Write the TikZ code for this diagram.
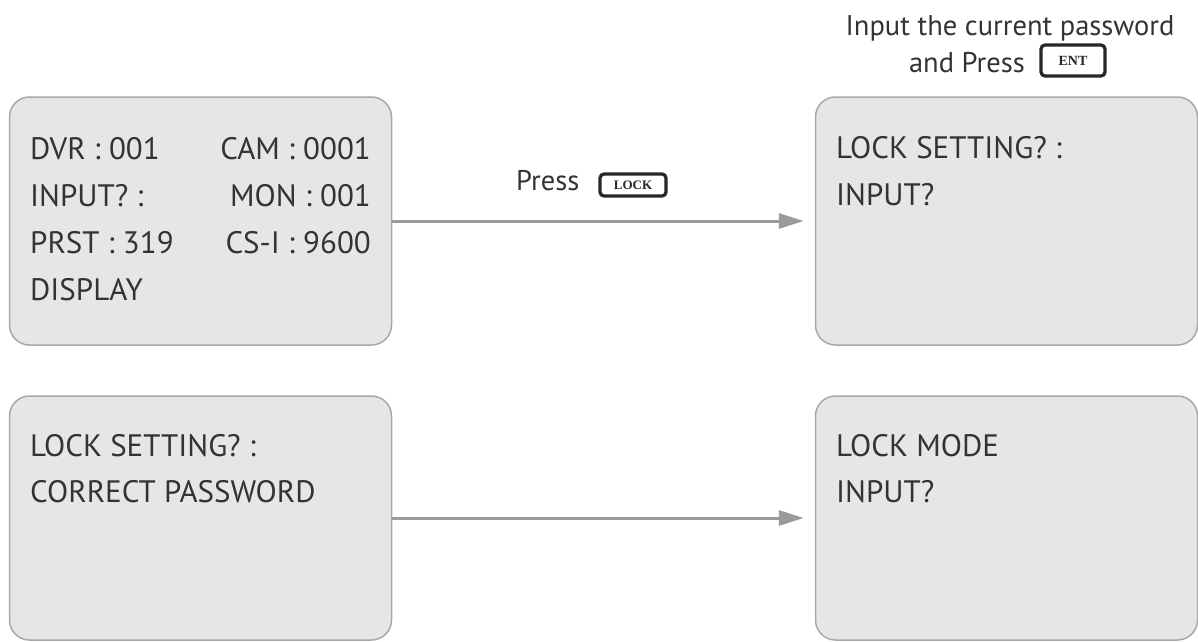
\documentclass[tikz,border=0pt]{standalone}
\usepackage{fontspec}
\setmainfont{PT Sans}
\newfontfamily\keyfont{Liberation Serif}
\usetikzlibrary{arrows.meta}
\definecolor{screengray}{HTML}{E6E6E6}
\definecolor{framegray}{HTML}{A8A8A8}
\definecolor{flowgray}{HTML}{9A9A9A}
\definecolor{inkgray}{HTML}{333333}
\tikzset{
    screen/.style={shape=rectangle, draw=framegray, fill=screengray, line width=1.5pt,
        rounded corners=20pt, minimum width=382pt, minimum height=248pt},
    lcd/.style={anchor=base west, inner sep=0pt, text=inkgray, font=\fontsize{31}{31}\selectfont},
    lcdright/.style={lcd, anchor=base east},
    flow/.style={draw=flowgray, line width=3pt, -{Triangle[length=25pt,width=15pt]}, shorten >=11pt},
    keycap/.style={shape=rectangle, draw=black!85, fill=white, line width=3.2pt, rounded corners=4pt,
        inner sep=0pt, text=black!85, font=\keyfont\bfseries\fontsize{13}{13}\selectfont},
    caption/.style={inner sep=0pt, text=inkgray, font=\fontsize{28.5}{28.5}\selectfont}}

\begin{document}
\begin{tikzpicture}[x=1pt, y=-1pt]

    \useasboundingbox (0,0) rectangle (1198,641);

    \node[screen] (S1) at (200.5,221) {};
    \node[screen] (S2) at (1006.5,221) {};
    \node[screen, minimum height=244pt] (S3) at (200.5,518) {};
    \node[screen, minimum height=244pt] (S4) at (1006.5,518) {};

    \node[lcd] (dvr) at (30,159) {DVR : 001};
    \node[lcd] (inp) at (30,206) {INPUT? :};
    \node[lcd] (prst) at (30,253) {PRST : 319};
    \node[lcd] (disp) at (30,300) {DISPLAY};
    \node[lcdright] (cam) at (371,159) {CAM : 0001};
    \node[lcdright] (mon) at (371,206) {MON : 001};
    \node[lcdright] (csi) at (371,253) {CS-I : 9600};

    \node[lcd] (set1) at (836,158) {LOCK SETTING? :};
    \node[lcd] (inp2) at (836,205) {INPUT?};

    \node[lcd] (set2) at (30,456) {LOCK SETTING? :};
    \node[lcd] (corr) at (30,502) {CORRECT PASSWORD};

    \node[lcd] (mode) at (836,456) {LOCK MODE};
    \node[lcd] (inp3) at (836,502) {INPUT?};

    \draw[flow] (S1.east) -- (S2.west);
    \draw[flow] (S3.east) -- (S4.west);

    \node[caption, anchor=base west] (press) at (516,190) {Press};
    \node[keycap, minimum width=66pt, minimum height=22pt] (lockkey) at (633,185) {LOCK};

    \node[caption, anchor=base] (ask) at (1010,35) {Input the current password};
    \node[caption, anchor=base east] (andpress) at (1025,72.7) {and Press};
    \node[keycap, minimum width=64pt, minimum height=31pt, font=\keyfont\bfseries\fontsize{14}{14}\selectfont] (entkey) at (1073,60.5) {ENT};

\end{tikzpicture}
\end{document}
